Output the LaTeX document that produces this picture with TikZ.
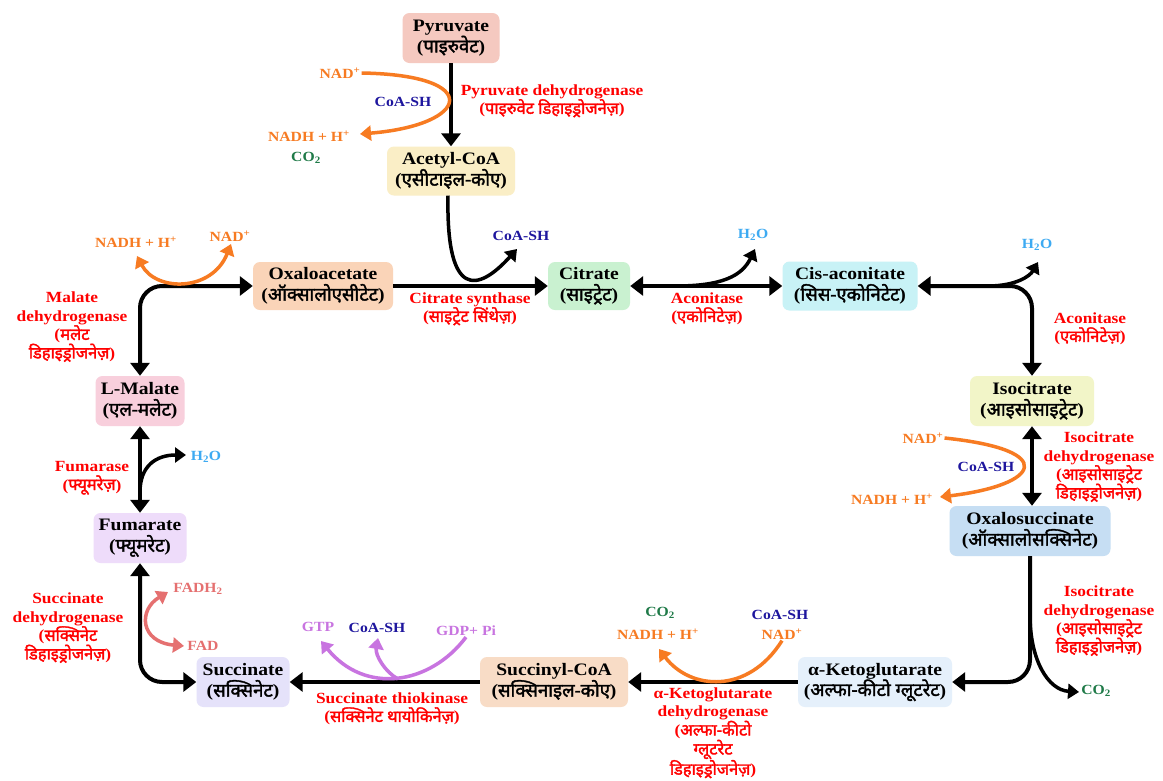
\documentclass[tikz,border=0pt]{standalone}
\usepackage{fontspec}
\setmainfont[FakeStretch=1.12]{Liberation Serif}
\newfontfamily\dev[Script=Devanagari,Scale=1.06,BoldFont={Noto Sans},BoldFeatures={FakeBold=2}]{Noto Sans}
\usetikzlibrary{arrows.meta}
\definecolor{enzred}{HTML}{FF0000}
\definecolor{orng}{HTML}{F77B22}
\definecolor{dblue}{HTML}{1E169E}
\definecolor{cogreen}{HTML}{1F7A48}
\definecolor{wblue}{HTML}{3DAAF2}
\definecolor{purp}{HTML}{C874E0}
\definecolor{fadc}{HTML}{E57070}
\definecolor{cPyr}{HTML}{F5C9C0}
\definecolor{cAce}{HTML}{FAEEC6}
\definecolor{cOxa}{HTML}{FAD4B8}
\definecolor{cCit}{HTML}{C9F1D0}
\definecolor{cCis}{HTML}{C8F2F6}
\definecolor{cIso}{HTML}{F2F5C8}
\definecolor{cOxs}{HTML}{C6DEF3}
\definecolor{cAkg}{HTML}{E5F0FB}
\definecolor{cScoa}{HTML}{F8DCC6}
\definecolor{cSuc}{HTML}{E5E2FA}
\definecolor{cFum}{HTML}{EEDCFA}
\definecolor{cMal}{HTML}{F8CFDC}
\newcommand\nf{\fontsize{17.5}{21}\selectfont\bfseries}
\newcommand\ef{\fontsize{15.5}{18.5}\selectfont\bfseries}
\newcommand\lf{\fontsize{14}{17}\selectfont\bfseries}
\newcommand\hin[1]{({\dev #1})}
\begin{document}
\begin{tikzpicture}[x=1pt,y=-1pt,
  box/.style={rounded corners=7pt, inner sep=2pt, align=center, font=\nf, text=black},
  enz/.style={align=center, text=enzred, font=\ef, inner sep=0pt},
  lab/.style={font=\lf, inner sep=1pt},
  flow/.style={line width=4pt, -{Triangle[length=13pt,width=19pt]}},
  flowb/.style={line width=4pt, {Triangle[length=13pt,width=19pt]}-{Triangle[length=13pt,width=19pt]}},
  side/.style={line width=3.5pt, -{Triangle[length=11pt,width=15pt]}},
  sideb/.style={line width=3.5pt, {Triangle[length=11pt,width=15pt]}-{Triangle[length=11pt,width=15pt]}}]
\useasboundingbox (0,0) rectangle (1163,780);
\fill[white] (0,0) rectangle (1163,780);

% metabolite boxes
\node[box, fill=cPyr, minimum width=97pt, minimum height=50pt] (pyr) at (451,38) {Pyruvate\\\hin{पाइरुवेट}};
\node[box, fill=cAce, minimum width=128pt, minimum height=49pt] (ace) at (451,171) {Acetyl-CoA\\\hin{एसीटाइल-कोए}};
\node[box, fill=cOxa, minimum width=140pt, minimum height=48pt] (oxa) at (323,286) {Oxaloacetate\\\hin{ऑक्सालोएसीटेट}};
\node[box, fill=cCit, minimum width=82pt, minimum height=48pt] (cit) at (589,286) {Citrate\\\hin{साइट्रेट}};
\node[box, fill=cCis, minimum width=135pt, minimum height=49pt] (cis) at (850,286) {Cis-aconitate\\\hin{सिस-एकोनिटेट}};
\node[box, fill=cIso, minimum width=124pt, minimum height=50pt] (iso) at (1032,401) {Isocitrate\\\hin{आइसोसाइट्रेट}};
\node[box, fill=cOxs, minimum width=161pt, minimum height=50pt] (oxs) at (1030,531) {Oxalosuccinate\\\hin{ऑक्सालोसक्सिनेट}};
\node[box, fill=cAkg, minimum width=154pt, minimum height=50pt] (akg) at (875,682) {α-Ketoglutarate\\\hin{अल्फा-कीटो ग्लूटरेट}};
\node[box, fill=cScoa, minimum width=148pt, minimum height=50pt] (scoa) at (554,682) {Succinyl-CoA\\\hin{सक्सिनाइल-कोए}};
\node[box, fill=cSuc, minimum width=93pt, minimum height=50pt] (suc) at (243,682) {Succinate\\\hin{सक्सिनेट}};
\node[box, fill=cFum, minimum width=93pt, minimum height=50pt] (fum) at (140,538) {Fumarate\\\hin{फ्यूमरेट}};
\node[box, fill=cMal, minimum width=89pt, minimum height=50pt] (mal) at (140,401) {L-Malate\\\hin{एल-मलेट}};

% enzyme labels
\node[enz] (e1) at (552,101) {Pyruvate dehydrogenase\\\hin{पाइरुवेट डिहाइड्रोजनेज़}};
\node[enz] (e2) at (470,309) {Citrate synthase\\\hin{साइट्रेट सिंथेज़}};
\node[enz] (e3) at (707,309) {Aconitase\\\hin{एकोनिटेज़}};
\node[enz] (e4) at (1090,329) {Aconitase\\\hin{एकोनिटेज़}};
\node[enz] (e5) at (1099,467) {Isocitrate\\dehydrogenase\\({\dev आइसोसाइट्रेट}\\{\dev डिहाइड्रोजनेज़})};
\node[enz] (e6) at (1099,621) {Isocitrate\\dehydrogenase\\({\dev आइसोसाइट्रेट}\\{\dev डिहाइड्रोजनेज़})};
\node[enz, font=\fontsize{15.5}{17.8}\selectfont\bfseries] (e7) at (713,733) {α-Ketoglutarate\\dehydrogenase\\({\dev अल्फा-कीटो}\\{\dev ग्लूटरेट}\\{\dev डिहाइड्रोजनेज़})};
\node[enz] (e8) at (392,709) {Succinate thiokinase\\\hin{सक्सिनेट थायोकिनेज़}};
\node[enz] (e9) at (68,628) {Succinate\\dehydrogenase\\({\dev सक्सिनेट}\\{\dev डिहाइड्रोजनेज़})};
\node[enz] (e10) at (92,478) {Fumarase\\\hin{फ्यूमरेज़}};
\node[enz] (e11) at (72,327) {Malate\\dehydrogenase\\({\dev मलेट}\\{\dev डिहाइड्रोजनेज़})};

% small labels
\node[lab, text=orng] (nad1) at (340,73) {NAD\textsuperscript{+}};
\node[lab, text=dblue] (coa1) at (403,102) {CoA-SH};
\node[lab, text=orng] (nadh1) at (309,136) {NADH + H\textsuperscript{+}};
\node[lab, text=cogreen] (co21) at (306,158) {CO\textsubscript{2}};
\node[lab, text=dblue] (coa2) at (521,236) {CoA-SH};
\node[lab, text=wblue] (h2o1) at (753,235) {H\textsubscript{2}O};
\node[lab, text=wblue] (h2o2) at (1037,245) {H\textsubscript{2}O};
\node[lab, text=orng] (nad2) at (923,438) {NAD\textsuperscript{+}};
\node[lab, text=dblue] (coa3) at (986,467) {CoA-SH};
\node[lab, text=orng] (nadh2) at (892,499) {NADH + H\textsuperscript{+}};
\node[lab, text=cogreen] (co22) at (1096,691) {CO\textsubscript{2}};
\node[lab, text=cogreen] (co23) at (660,613) {CO\textsubscript{2}};
\node[lab, text=orng] (nadh3) at (658,634) {NADH + H\textsuperscript{+}};
\node[lab, text=dblue] (coa4) at (780,615) {CoA-SH};
\node[lab, text=orng] (nad3) at (782,634) {NAD\textsuperscript{+}};
\node[lab, text=purp] (gtp) at (318,627) {GTP};
\node[lab, text=dblue] (coa5) at (377,628) {CoA-SH};
\node[lab, text=purp] (gdp) at (466,631) {GDP+ Pi};
\node[lab, text=fadc] (fadh) at (198,589) {FADH\textsubscript{2}};
\node[lab, text=fadc] (fad) at (203,646) {FAD};
\node[lab, text=wblue] (h2o3) at (206,457) {H\textsubscript{2}O};
\node[lab, text=orng] (nadh4) at (136,242) {NADH + H\textsuperscript{+}};
\node[lab, text=orng] (nad4) at (230,236) {NAD\textsuperscript{+}};

% branch points and free ends
\coordinate (b1) at (676,286);
\coordinate (b2) at (988,286);
\coordinate (b3) at (1030,615);
\coordinate (b4) at (140,492);
\coordinate (t1) at (517,249);
\coordinate (t2) at (755,249);
\coordinate (t3) at (1038,262);
\coordinate (t4) at (1079,692);
\coordinate (t5) at (186,455);
\coordinate (t6) at (360,134);
\coordinate (t7) at (940,497);
\coordinate (t8) at (659,649);
\coordinate (t9) at (321,641);
\coordinate (t10) at (378,638);
\coordinate (s9) at (398,679);
\coordinate (t11) at (168,592);
\coordinate (t12) at (184,646);
\coordinate (t13) at (137,256);
\coordinate (t14) at (231,244);

% main cycle
\draw[flow] (pyr.south) -- (ace.north);
\draw[flow] (oxa.east) -- (cit.west);
\draw[flowb] (cit.east) -- (cis.west);
\draw[flowb, rounded corners=22pt] (cis.east) -| (iso.north);
\draw[flowb] (iso.south) -- (iso.south |- oxs.north);
\draw[flow, rounded corners=22pt] (oxs.south) |- (akg.east);
\draw[flow] (akg.west) -- (scoa.east);
\draw[flow] (scoa.west) -- (suc.east);
\draw[flowb, rounded corners=22pt] (fum.south) |- (suc.west);
\draw[flowb] (fum.north) -- (mal.south);
\draw[flowb, rounded corners=22pt] (mal.north) |- (oxa.west);

% black side branches
\draw[side] ([xshift=-3pt]ace.south) .. controls (446,300) and (478,292) .. (t1);
\draw[side] (b1) .. controls (722,286) and (742,276) .. (t2);
\draw[side] (b2) .. controls (1016,286) and (1030,276) .. (t3);
\draw[side] (b3) .. controls (1030,660) and (1048,690) .. (t4);
\draw[side] (b4) .. controls (140,466) and (156,455) .. (t5);

% cofactor curves
\draw[side, orng] (nad1.east) .. controls (485,75) and (470,125) .. (t6);
\draw[side, orng] (nad2.east) .. controls (1060,450) and (1040,485) .. (t7);
\draw[side, orng] (nad3.south) .. controls (748,695) and (690,690) .. (t8);
\draw[side, purp] (gdp.south) .. controls (430,685) and (365,695) .. (t9);
\draw[side, purp] (s9) .. controls (385,672) and (375,655) .. (t10);
\draw[sideb, fadc] (t11) .. controls (138,610) and (140,642) .. (t12);
\draw[sideb, orng] (t13) .. controls (156,292) and (212,292) .. (t14);
\end{tikzpicture}
\end{document}
